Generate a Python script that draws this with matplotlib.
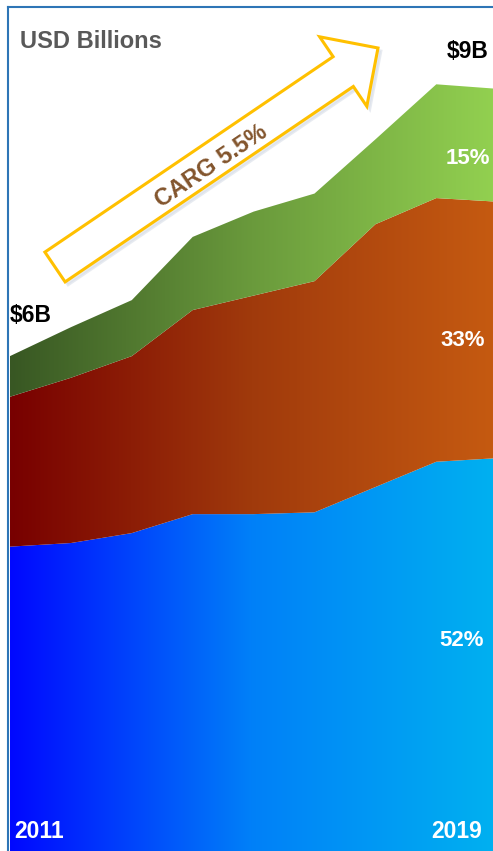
import numpy as np
import matplotlib.pyplot as plt
from matplotlib.colors import LinearSegmentedColormap
from matplotlib.patches import FancyArrow
from matplotlib.lines import Line2D

plt.rcParams['font.family'] = ['Liberation Sans', 'DejaVu Sans']

# market size by segment, USD billions
years = [2011, 2012, 2013, 2014, 2015, 2016, 2017, 2018, 2019]
blue = [3.88, 3.92, 4.03, 4.24, 4.24, 4.26, 4.54, 4.82, 4.86]
orange = [1.66, 1.83, 1.96, 2.26, 2.42, 2.56, 2.91, 2.92, 2.84]
green = [0.45, 0.56, 0.62, 0.81, 0.93, 0.97, 0.94, 1.26, 1.25]
shares = ['52%', '33%', '15%']

W, H = 493, 851
fig = plt.figure(figsize=(W / 100, H / 100), dpi=100)

# axes run from pixel x=10 to the right edge; the last year sits just past it
px_per_year = 60.9
ax = fig.add_axes([10 / W, 0, (W - 10) / W, 1])
x = np.arange(len(years))
xmax = (W - 10) / px_per_year
ylo, yhi = (897 - H) / 90.3, 897 / 90.3

b = np.array(blue)
o = b + np.array(orange)
g = o + np.array(green)

layers = [
    (np.zeros_like(b), b, ['#0008FF', '#0080F8', '#00B0F0']),
    (b, o, ['#780000', '#A03A0C', '#C55A11']),
    (o, g, ['#385723', '#6A9A3C', '#92D050']),
]
grad = np.linspace(0, 1, 256).reshape(1, -1)
for lower, upper, cols in layers:
    poly = ax.fill_between(x, lower, upper, facecolor='none', edgecolor='none')
    cmap = LinearSegmentedColormap.from_list('g', cols)
    im = ax.imshow(grad, extent=[0, xmax, ylo, yhi], aspect='auto', cmap=cmap,
                   interpolation='bilinear', zorder=1)
    im.set_clip_path(poly.get_paths()[0], transform=ax.transData)

ax.set_xlim(0, xmax)
ax.set_ylim(ylo, yhi)
ax.axis('off')

# frame
fig.add_artist(Line2D([7.5 / W, 7.5 / W], [0, 1 - 6.5 / H], color='#2E75B6', lw=1.5))
fig.add_artist(Line2D([7.5 / W, 1], [1 - 6.5 / H, 1 - 6.5 / H], color='#2E75B6', lw=1.5))

# growth arrow (in inches)
tx, ty, dx, dy = 0.55, 5.84, 3.23, 2.19
shadow = FancyArrow(tx + 0.03, ty - 0.03, dx, dy, width=0.36, head_width=0.84,
                    head_length=0.42, length_includes_head=True,
                    transform=fig.dpi_scale_trans, fc='#D8DEE8', ec='#D8DEE8',
                    lw=2, alpha=0.6)
fig.add_artist(shadow)
arrow = FancyArrow(tx, ty, dx, dy, width=0.36, head_width=0.84, head_length=0.42,
                   length_includes_head=True, transform=fig.dpi_scale_trans,
                   fc='white', ec='#FFC000', lw=2.2)
fig.add_artist(arrow)


def px(xp, yp):
    return xp / W, 1 - yp / H


fig.text(*px(211, 166), 'CARG 5.5%', rotation=34, ha='center', va='center',
         fontsize=17, fontweight='bold', color='#83552D', rotation_mode='anchor')
fig.text(*px(20, 42), 'USD Billions', ha='left', va='center', fontsize=17,
         fontweight='bold', color='#595959')
fig.text(*px(10, 316), f'${g[0]:.0f}B', ha='left', va='center', fontsize=16.5,
         fontweight='bold', color='black')
fig.text(*px(468, 52), f'${g.max():.0f}B', ha='center', va='center', fontsize=16.5,
         fontweight='bold', color='black')
for label, xp, yp in zip(shares, [462, 463, 468], [641, 340, 159]):
    fig.text(*px(xp, yp), label, ha='center', va='center', fontsize=16,
             fontweight='bold', color='white')
fig.text(*px(14, 832), str(years[0]), ha='left', va='center', fontsize=16.5,
         fontweight='bold', color='white')
fig.text(*px(482, 832), str(years[-1]), ha='right', va='center', fontsize=16.5,
         fontweight='bold', color='white')

fig.savefig('out.png', dpi=100)
